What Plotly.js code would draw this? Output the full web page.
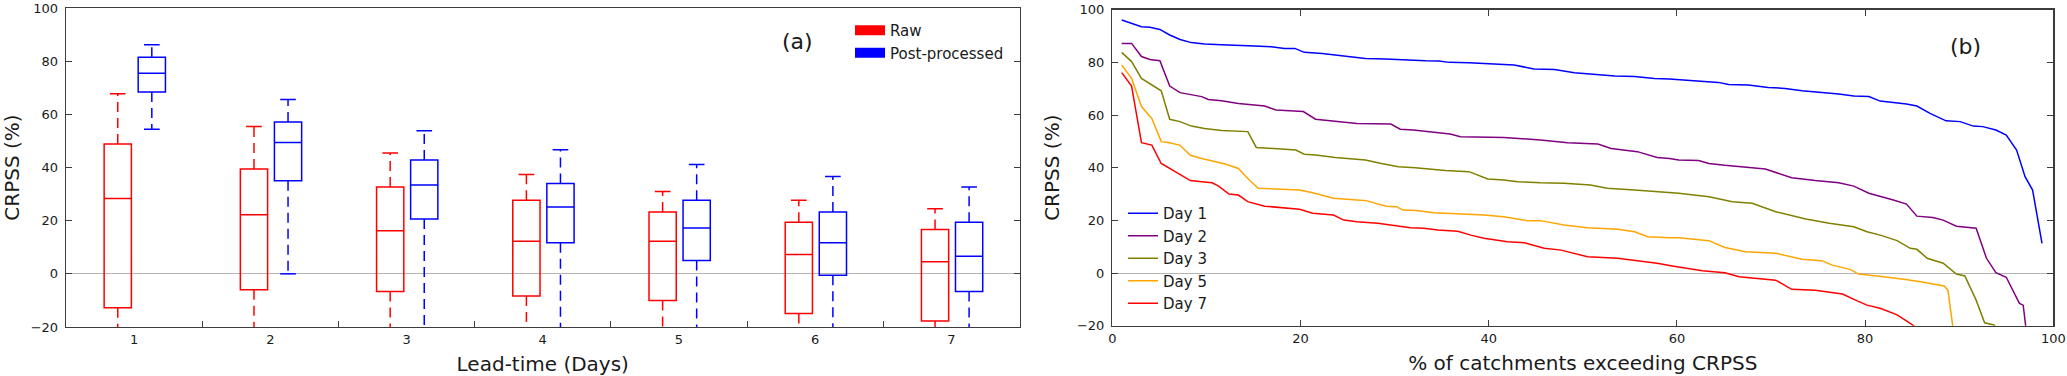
<!DOCTYPE html>
<html>
<head>
<meta charset="utf-8">
<script src="https://cdn.plot.ly/plotly-3.0.1.min.js"></script>
<style>html,body{margin:0;padding:0;background:#fff}#chart{width:2067px;height:376px}</style>
</head>
<body>
<div id="chart"></div>
<script>
// ---------- Panel (a): box-plot statistics per lead time ----------
const leadDays = [1, 2, 3, 4, 5, 6, 7];
const leadDayLabels = ['1', '2', '3', '4', '5', '6', '7'];

const rawUpper  = [67.7, 55.4, 45.5, 37.4, 31.0, 27.7, 24.5];
const rawQ3     = [48.8, 39.4, 32.7, 27.7, 23.3, 19.4, 16.7];
const rawMedian = [28.3, 22.2, 16.2, 12.3, 12.3, 7.3, 4.5];
const rawQ1     = [-12.8, -6.0, -6.6, -8.3, -10.0, -14.9, -17.7];
const rawLower  = [-30, -30, -25, -30, -30, -25, -30];

const postUpper  = [86.2, 65.6, 53.8, 46.7, 41.1, 36.6, 32.7];
const postQ3     = [81.5, 57.1, 42.8, 34.0, 27.7, 23.3, 19.4];
const postMedian = [75.5, 49.4, 33.4, 25.1, 17.2, 11.7, 6.6];
const postQ1     = [68.4, 35.0, 20.6, 11.7, 5.0, -0.5, -6.6];
const postLower  = [54.4, 0.0, -30, -30, -30, -25, -25];

// ---------- Panel (b): % of catchments exceeding CRPSS ----------
const day1X = [1,2.05,3.1,4.0,5.06,6.1,7.2,8.4,9.8,11.6,13.4,15.1,16.9,18.3,19.4,20.4,22.3,23.7,25.1,26.9,29.0,31.1,33.3,34.7,35.8,37.9,39.5,40.6,42.7,44.8,47.0,49.1,51.2,53.4,55.5,57.6,59.2,60.2,62.3,64.4,65.5,67.6,69.7,71.5,73.3,75.4,77.2,78.8,80.4,81.6,83.0,84.4,85.5,86.9,88.6,90.1,91.5,92.5,93.9,95.0,96.1,97.0,97.8,98.8];
const day1Y = [96.1,94.8,93.5,93.3,92.5,90.4,88.7,87.5,87.0,86.7,86.3,86.2,85.9,85.3,85.3,83.8,83.4,82.8,82.2,81.5,81.3,80.9,80.6,80.5,80.0,79.9,79.6,79.6,79.0,77.5,77.3,76.1,75.6,74.8,74.6,73.9,73.7,73.5,73.0,72.4,71.6,71.4,70.5,70.1,69.2,68.6,68.0,67.2,67.0,65.3,64.7,64.2,63.4,60.6,57.8,57.5,55.8,55.6,54.3,52.4,46.7,36.6,31.5,11.3];

const day2X = [1.0,2.05,3.1,4.0,5.06,6.1,7.2,8.4,9.5,10.2,11.6,13.4,14.8,16.2,17.4,19.0,20.3,21.6,23.5,26.0,29.6,30.6,32.0,34.2,35.9,37.0,39.5,41.6,45.5,48.4,51.6,53.0,55.8,57.9,59.2,60.2,62.3,63.4,65.1,66.9,69.4,72.2,74.7,77.2,78.8,80.4,81.6,83.0,84.4,85.5,87.2,88.3,89.7,91.8,92.9,93.9,95.0,96.4,96.8,97.1,97.4];
const day2Y = [87.2,87.2,82.2,81.1,80.6,71.0,68.5,67.6,67.0,65.9,65.4,64.4,63.8,63.4,61.9,61.5,61.3,58.4,57.8,56.8,56.6,54.6,54.3,53.3,52.8,51.8,51.5,51.5,50.5,49.5,49.0,47.3,46.1,43.9,43.5,42.9,42.7,41.6,40.9,40.4,39.5,36.2,35.1,34.3,33.0,30.3,29.2,27.7,26.2,21.6,21.1,20.1,17.8,17.0,5.6,0.1,-1.6,-11.5,-12.2,-19.7,-30];

const day3X = [1.0,2.05,3.1,4.2,5.2,6.1,7.2,8.4,9.8,11.6,13.4,14.4,15.3,16.9,18.7,19.5,20.4,21.6,23.7,25.5,26.9,28.6,30.4,32.2,33.6,35.4,37.9,39.9,41.6,43.1,45.5,48.0,50.8,52.6,55.5,59.2,60.2,63.4,65.9,68.0,70.5,73.7,76.2,78.8,80.2,81.6,83.4,84.8,85.5,86.6,88.3,89.7,90.6,91.8,92.7,93.7,94.5];
const day3Y = [83.8,80.3,73.9,71.4,69.2,58.4,57.5,55.8,54.9,54.1,53.7,53.7,47.7,47.3,47.0,46.7,45.1,44.8,43.9,43.2,42.9,41.6,40.4,40.0,39.4,38.9,38.5,35.7,35.3,34.7,34.3,34.1,33.4,32.2,31.5,30.5,30.3,29.0,27.1,26.5,23.3,20.5,18.9,17.6,15.7,14.4,12.3,9.4,9.0,5.6,3.7,-0.4,-1.1,-10.3,-18.9,-19.7,-24];

const day5X = [1.0,2.05,3.1,4.2,5.2,6.1,7.2,8.3,9.5,10.9,12.0,13.4,14.4,15.5,17.6,19.9,21.3,23.5,26.0,27.0,29.1,30.2,30.9,32.3,34.2,35.9,37.4,39.5,41.6,44.1,45.5,48.0,50.5,53.7,55.5,56.9,59.2,60.2,63.4,65.1,67.3,70.5,73.3,75.4,76.5,78.4,79.3,80.6,82.0,84.1,85.9,88.4,88.8,89.3,89.5];
const day5Y = [79.0,73.9,63.2,58.7,49.9,49.5,48.5,44.7,43.5,42.3,41.4,39.7,35.9,32.2,31.8,31.5,30.5,28.4,27.7,27.5,25.4,25.2,23.9,23.7,22.9,22.7,22.3,22.0,21.4,19.9,19.9,18.2,17.2,16.6,15.7,13.8,13.4,13.4,12.3,9.7,8.1,7.5,5.2,4.7,3.0,1.4,-0.4,-0.8,-1.4,-2.4,-3.3,-4.9,-6.5,-19.7,-25];

const day7X = [1.0,2.05,3.1,4.2,5.2,6.1,7.2,8.3,9.5,10.6,11.3,12.4,13.4,14.4,16.2,18.3,19.9,21.3,23.5,24.6,26.0,28.2,29.9,31.7,33.1,34.6,36.7,38.1,39.5,42.0,43.8,45.9,47.7,50.5,53.7,55.5,57.9,59.5,62.7,65.1,66.6,70.5,72.2,74.7,77.6,79.1,80.2,81.6,83.4,84.8,85.2,85.5];
const day7Y = [76.1,71.0,49.5,48.6,41.6,39.7,37.2,35.1,34.7,34.3,33.0,30.0,29.6,27.1,25.4,24.6,24.2,22.7,22.0,20.1,19.5,18.9,18.2,17.2,17.0,16.3,15.9,14.4,13.2,11.9,11.5,9.4,8.7,6.2,5.6,4.9,3.7,2.7,0.9,0.1,-1.4,-2.7,-6.2,-6.5,-8.0,-10.5,-12.2,-13.4,-15.9,-19.1,-20.1,-22];

const dayNames = ['Day 1', 'Day 2', 'Day 3', 'Day 5', 'Day 7'];
const yTicks = [-20, 0, 20, 40, 60, 80, 100];
const pctTicks = [0, 20, 40, 60, 80, 100];

// ---------- styling ----------
const FONT = 'DejaVu Sans';
const TXT = '#1a1a1a';
const FRAME = '#3c3c3c';
const RAW_C = '#ff0000', POST_C = '#0000ff';
const dayColors = ['#0000ff', '#800080', '#808000', '#ffa500', '#ff0000'];
const RAW_OFF = -0.12, POST_OFF = 0.13, BOX_W = 0.2, CAP_W = 0.115;
const WHISK_DASH = '10px,6px';

function boxTrace(off, q1, med, q3, color) {
  return {
    type: 'box', xaxis: 'x', yaxis: 'y',
    x: leadDays.map(d => d + off), q1: q1, median: med, q3: q3,
    lowerfence: q1, upperfence: q3,
    width: BOX_W, whiskerwidth: 0, boxpoints: false,
    line: {color: color, width: 1.5}, fillcolor: 'rgba(0,0,0,0)',
    showlegend: false, hoverinfo: 'skip'
  };
}
function whiskerTrace(off, q1, q3, lo, hi, color) {
  const xs = [], ys = [];
  leadDays.forEach((d, i) => {
    const p = d + off;
    xs.push(p, p, null, p, p, null);
    ys.push(q3[i], hi[i], null, q1[i], lo[i], null);
  });
  return {type: 'scatter', mode: 'lines', xaxis: 'x', yaxis: 'y', x: xs, y: ys,
    line: {color: color, width: 1.5, dash: WHISK_DASH}, showlegend: false, hoverinfo: 'skip'};
}
function capTrace(off, lo, hi, color) {
  const xs = [], ys = [];
  leadDays.forEach((d, i) => {
    const p = d + off;
    xs.push(p - CAP_W / 2, p + CAP_W / 2, null, p - CAP_W / 2, p + CAP_W / 2, null);
    ys.push(hi[i], hi[i], null, lo[i], lo[i], null);
  });
  return {type: 'scatter', mode: 'lines', xaxis: 'x', yaxis: 'y', x: xs, y: ys,
    line: {color: color, width: 1.5}, showlegend: false, hoverinfo: 'skip'};
}

const traces = [
  boxTrace(RAW_OFF, rawQ1, rawMedian, rawQ3, RAW_C),
  boxTrace(POST_OFF, postQ1, postMedian, postQ3, POST_C),
  whiskerTrace(RAW_OFF, rawQ1, rawQ3, rawLower, rawUpper, RAW_C),
  whiskerTrace(POST_OFF, postQ1, postQ3, postLower, postUpper, POST_C),
  capTrace(RAW_OFF, rawLower, rawUpper, RAW_C),
  capTrace(POST_OFF, postLower, postUpper, POST_C),
  // legend-only entries (no drawable points)
  {type: 'scatter', mode: 'lines', xaxis: 'x', yaxis: 'y', x: [leadDays[0]], y: [null], name: 'Raw',
   line: {color: RAW_C, width: 10}, legend: 'legend', showlegend: true, hoverinfo: 'skip'},
  {type: 'scatter', mode: 'lines', xaxis: 'x', yaxis: 'y', x: [leadDays[0]], y: [null], name: 'Post-processed',
   line: {color: POST_C, width: 10}, legend: 'legend', showlegend: true, hoverinfo: 'skip'}
];

const dayX = [day1X, day2X, day3X, day5X, day7X];
const dayY = [day1Y, day2Y, day3Y, day5Y, day7Y];
dayNames.forEach((nm, i) => {
  traces.push({type: 'scatter', mode: 'lines', xaxis: 'x2', yaxis: 'y2',
    x: dayX[i], y: dayY[i], name: nm, legend: 'legend2',
    line: {color: dayColors[i], width: 1.5}, hoverinfo: 'skip'});
});

const W = 2067, H = 376;
const commonAxis = {
  showline: true, mirror: true, linecolor: FRAME, linewidth: 1.3,
  showgrid: false, zeroline: false, automargin: false, ticklabeloverflow: 'allow',
  tickfont: {family: FONT, size: 13, color: TXT}
};
const yCommon = Object.assign({}, commonAxis, {
  range: [-20, 100], tickvals: yTicks, ticks: 'inside', ticklen: 6, tickcolor: FRAME, tickwidth: 1,
  mirror: 'ticks', zeroline: true, zerolinecolor: '#b5b5b5', zerolinewidth: 1,
  ticklabelstandoff: 4,
  title: {text: 'CRPSS (%)', font: {family: FONT, size: 20, color: TXT}, standoff: 12}
});

const layout = {
  width: W, height: H,
  margin: {l: 0, r: 0, t: 0, b: 0, pad: 0},
  paper_bgcolor: '#ffffff', plot_bgcolor: '#ffffff',
  font: {family: FONT, size: 13, color: TXT},
  showlegend: true,
  xaxis: Object.assign({}, commonAxis, {
    domain: [66 / W, 1019.5 / W], anchor: 'y', range: [0.5, 7.5],
    tickvals: leadDays, ticktext: leadDayLabels, ticks: '',
    minor: {tickvals: leadDays.slice(1).map(d => d - 0.5), ticks: 'inside', ticklen: 6, tickcolor: FRAME, tickwidth: 1},
    ticklabelstandoff: 0,
    title: {text: 'Lead-time (Days)', font: {family: FONT, size: 20, color: TXT}, standoff: 11}
  }),
  yaxis: Object.assign({}, yCommon, {domain: [1 - 327 / H, 1 - 8 / H], anchor: 'x'}),
  xaxis2: Object.assign({}, commonAxis, {
    domain: [1112.3 / W, 2053.3 / W], anchor: 'y2', range: [0, 100],
    tickvals: pctTicks, ticks: 'inside', ticklen: 6, tickcolor: FRAME, tickwidth: 1, mirror: 'ticks',
    ticklabelstandoff: 0,
    title: {text: '% of catchments exceeding CRPSS', font: {family: FONT, size: 20, color: TXT}, standoff: 11}
  }),
  yaxis2: Object.assign({}, yCommon, {domain: [1 - 325.7 / H, 1 - 9.7 / H], anchor: 'x2'}),
  legend: {
    x: 850 / W, xanchor: 'left', y: 1 - 14 / H, yanchor: 'top',
    bgcolor: 'rgba(0,0,0,0)', borderwidth: 0, tracegroupgap: 0,
    font: {family: FONT, size: 15, color: TXT}
  },
  legend2: {
    x: 1123 / W, xanchor: 'left', y: 1 - 197 / H, yanchor: 'top',
    bgcolor: 'rgba(0,0,0,0)', borderwidth: 0, tracegroupgap: 0,
    font: {family: FONT, size: 15, color: TXT}
  },
  annotations: [
    {text: '(a)', xref: 'paper', yref: 'paper', x: 797.7 / W, y: 1 - 41.7 / H,
     xanchor: 'center', yanchor: 'middle', showarrow: false, font: {family: FONT, size: 22, color: TXT}},
    {text: '(b)', xref: 'paper', yref: 'paper', x: 1965 / W, y: 1 - 46.7 / H,
     xanchor: 'center', yanchor: 'middle', showarrow: false, font: {family: FONT, size: 22, color: TXT}}
  ]
};

Plotly.newPlot('chart', traces, layout, {staticPlot: true, displayModeBar: false});
</script>
</body>
</html>
